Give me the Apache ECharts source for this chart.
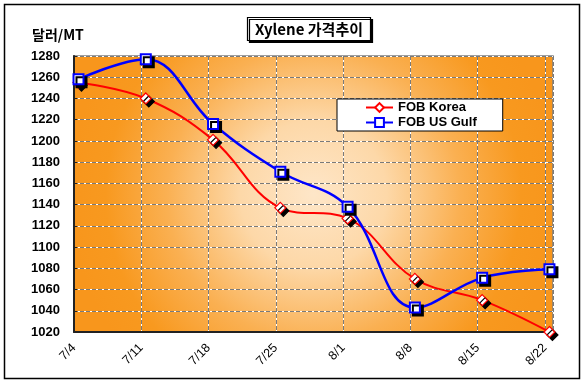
<!DOCTYPE html>
<html>
<head>
<meta charset="utf-8">
<script src="https://cdn.jsdelivr.net/npm/echarts@6/dist/echarts.min.js"></script>
<style>
html,body{margin:0;padding:0;background:#fff;}
#c{width:585px;height:388px;}
</style>
</head>
<body>
<div id="c"></div>
<script>
var categories = ['7/4','7/11','7/18','7/25','8/1','8/8','8/15','8/22'];
var fobKorea = [1255, 1240, 1201, 1137, 1127, 1070, 1050, 1020];
var fobUSGulf = [1258, 1277, 1216, 1171, 1138, 1043, 1071, 1079];
var yTicks = {min: 1020, max: 1280, step: 20};
var chartTitle = 'Xylene 가격추이';
var unitLabel = '달러/MT';
var seriesNames = ['FOB Korea', 'FOB US Gulf'];

function pts(arr){ return arr.map(function(v,i){ return [i, v]; }); }

var chart = echarts.init(document.getElementById('c'));
var shift = 0.067;
var xmax = 7.12;
var yAx = {type:'value', min:yTicks.min, max:yTicks.max, interval:yTicks.step};
chart.setOption({
  animation:false,
  backgroundColor:'#fff',
  graphic:[{type:'rect', z:-10, shape:{x:4.5,y:4.5,width:575,height:374}, style:{fill:'none', stroke:'#000', lineWidth:1.5}}],
  title:[{
    text: chartTitle, left:247, top:17,
    padding:[5,8,4,8],
    backgroundColor:'#fff', borderColor:'#000', borderWidth:1.2,
    shadowColor:'#000', shadowOffsetX:2, shadowOffsetY:2, shadowBlur:0,
    textStyle:{fontFamily:'"Noto Sans CJK KR"', fontSize:15, fontWeight:'bold', color:'#000'}
  },{
    text: unitLabel, left:27, top:23,
    textStyle:{fontFamily:'"Noto Sans CJK KR"', fontSize:14, fontWeight:'bold', color:'#000'}
  }],
  legend:{
    orient:'vertical', left:337, top:99,
    padding:[2,26,2,28], itemGap:2, itemWidth:27, itemHeight:11,
    backgroundColor:'#fff', borderColor:'#000', borderWidth:1,
    textStyle:{fontFamily:'Arial', fontSize:13, fontWeight:'bold', color:'#000'},
    data:seriesNames
  },
  grid:{
    left:74, top:56, right:32, bottom:56, show:true,
    backgroundColor:{type:'radial', x:0.5, y:0.5, r:0.88, colorStops:[{offset:0,color:'#FEE6C8'},{offset:0.3,color:'#FDD8A8'},{offset:0.6,color:'#FAB052'},{offset:0.85,color:'#F8991F'},{offset:1,color:'#F8961C'}]},
    borderColor:'#808080', borderWidth:1.5
  },
  xAxis:[{
    type:'value', min:0, max:xmax, interval:1,
    axisLine:{show:true, onZero:false, lineStyle:{color:'#222', width:2}},
    axisTick:{show:false},
    splitLine:{show:true, lineStyle:{color:'#fff', width:1}},
    axisLabel:{rotate:45, margin:14, color:'#000', fontFamily:'Arial', fontSize:12.5,
      showMaxLabel:false,
      formatter:function(v){ return categories[v] !== undefined && v === Math.round(v) ? categories[v] : ''; }}
  },{
    type:'value', min:-shift, max:xmax-shift, show:false
  },{
    type:'value', min:0, max:xmax, interval:1,
    axisLine:{show:false}, axisTick:{show:false}, axisLabel:{show:false},
    splitLine:{show:true, lineStyle:{color:'#7a7a7a', width:1, type:[4,2]}}
  }],
  yAxis:[Object.assign({}, yAx, {
    axisLine:{show:true, onZero:false, lineStyle:{color:'#222', width:2}},
    axisTick:{show:true, inside:true, length:3, lineStyle:{color:'#222'}},
    splitLine:{show:true, lineStyle:{color:'#fff', width:1}},
    axisLabel:{margin:14, color:'#000', fontFamily:'Arial', fontSize:13, fontWeight:'bold',
      formatter:function(v){ return String(v); }}
  }), Object.assign({}, yAx, {
    axisLine:{show:false}, axisTick:{show:false}, axisLabel:{show:false},
    splitLine:{show:true, lineStyle:{color:'#7a7a7a', width:1, type:[4,2]}}
  })],
  series:[{
    name:seriesNames[0], type:'line', xAxisIndex:1, yAxisIndex:0, smooth:0.4,
    data:pts(fobKorea), symbol:'diamond', symbolSize:11, z:3,
    lineStyle:{color:'#FF0000', width:2},
    itemStyle:{color:'#fff', borderColor:'#FF0000', borderWidth:1.2, shadowColor:'#000', shadowOffsetX:3, shadowOffsetY:3, shadowBlur:0}
  },{
    name:seriesNames[1], type:'line', xAxisIndex:1, yAxisIndex:0, smooth:0.4,
    data:pts(fobUSGulf), symbol:'rect', symbolSize:10, z:4,
    lineStyle:{color:'#0000FF', width:2.5},
    itemStyle:{color:'#fff', borderColor:'#0000FF', borderWidth:2, shadowColor:'#000', shadowOffsetX:3, shadowOffsetY:3, shadowBlur:0}
  }]
});
</script>
</body>
</html>
